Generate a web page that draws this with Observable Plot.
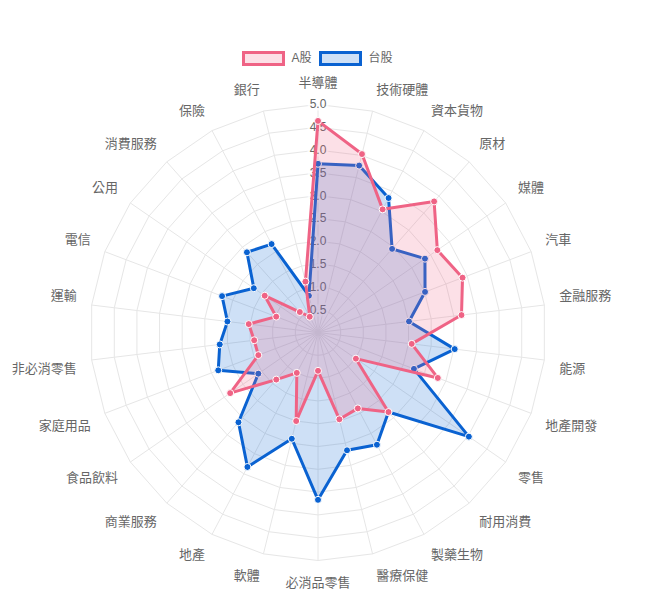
<!DOCTYPE html>
<html><head><meta charset="utf-8">
<script src="https://cdn.jsdelivr.net/npm/d3@7"></script>
<script src="https://cdn.jsdelivr.net/npm/@observablehq/plot@0.6"></script>
<style>
body{margin:0;background:#fff;font-family:"Liberation Sans","Noto Sans CJK TC",sans-serif;}
#legend{position:relative;height:70px;width:656px;}
.item{position:absolute;top:51px;display:flex;align-items:center;font-size:12px;color:#666;line-height:15px;}
.box{box-sizing:border-box;width:43px;height:15px;border:3px solid;margin-right:7px;}
#chart svg{display:block;}
</style></head>
<body>
<div id="legend"></div>
<div id="chart"></div>
<script>
const categories = ["半導體","技術硬體","資本貨物","原材","媒體","汽車","金融服務","能源","地產開發","零售","耐用消費","製藥生物","醫療保健","必消品零售","軟體","地產","商業服務","食品飲料","家庭用品","非必消零售","運輸","電信","公用","消費服務","保險","銀行"];
const seriesA = [4.64,4.03,3.05,3.84,3.18,3.39,3.17,2.07,2.81,1.01,2.33,1.88,1.96,0.84,2.0,1.0,1.38,2.34,1.4,1.41,1.53,0.98,1.42,0.6,0.39,1.15];
const seriesTW = [3.7,3.77,3.33,2.45,2.85,2.51,2.01,3.02,2.25,4.02,2.33,2.78,2.66,3.67,2.4,3.33,2.63,1.59,2.34,2.17,2.0,2.25,1.71,2.35,2.19,0.83];
const seriesNames = ["A股","台股"];
const tickValues = [0.5,1.0,1.5,2.0,2.5,3.0,3.5,4.0,4.5,5.0];
const colors = ["#ef6385","#0a62d1"];

// legend
const legend = document.getElementById("legend");
const legendLeft = [241.5, 318.5];
seriesNames.forEach((s, i) => {
  const it = document.createElement("div");
  it.className = "item";
  it.style.left = legendLeft[i] + "px";
  const b = document.createElement("div");
  b.className = "box";
  b.style.borderColor = colors[i];
  b.style.background = d3.color(colors[i]).copy({opacity: 0.2}).formatRgb();
  it.appendChild(b);
  const t = document.createElement("span");
  t.textContent = s;
  it.appendChild(t);
  legend.appendChild(it);
});

const W = 656, H = 539, CX = 317.5, CY = 262, K = 45.6, N = categories.length;
const maxV = tickValues[tickValues.length - 1];
const ang = i => i * 2 * Math.PI / N;
const px = (v, i) => v * Math.sin(ang(i));
const py = (v, i) => v * Math.cos(ang(i));

const seriesRows = [seriesA, seriesTW].map((vals, si) =>
  categories.map((c, i) => ({series: seriesNames[si], cat: c, i, v: vals[i], x: px(vals[i], i), y: py(vals[i], i)})));
const grid = tickValues.flatMap(l => categories.map((c, i) => ({level: l, x: px(l, i), y: py(l, i)})));
const spokes = categories.map((c, i) => ({x: px(maxV, i), y: py(maxV, i)}));
const LR = 243 / K;
const labels = categories.map((c, i) => ({c, a: i * 360 / N, x: px(LR, i), y: py(LR, i)}));

const font = "'Liberation Sans','Noto Sans CJK TC',sans-serif";
function labelMark(filter, anchor, dy) {
  return Plot.text(labels.filter(filter), {x: "x", y: "y", text: "c", textAnchor: anchor, dy, fill: "#666", fontSize: 13});
}

const marks = [
  Plot.line(grid, {x: "x", y: "y", z: "level", curve: "linear-closed", stroke: "#e6e6e6", strokeWidth: 1}),
  Plot.link(spokes, {x1: () => 0, y1: () => 0, x2: "x", y2: "y", stroke: "#e6e6e6", strokeWidth: 1}),
  Plot.text(tickValues, {x: () => 0, y: d => d, text: d => d.toFixed(1), fill: "#666", fontSize: 12, stroke: "white", strokeOpacity: 0.75, strokeWidth: 5}),
];
// dataset 1 (台股) drawn first, dataset 0 (A股) on top
[1, 0].forEach(si => {
  marks.push(Plot.line(seriesRows[si], {x: "x", y: "y", curve: "linear-closed", stroke: colors[si], strokeWidth: 3, fill: colors[si], fillOpacity: 0.2, strokeLinejoin: "miter"}));
  marks.push(Plot.dot(seriesRows[si], {x: "x", y: "y", r: 3.5, fill: colors[si], stroke: "white", strokeWidth: 1}));
});
marks.push(
  labelMark(d => d.a === 0, "middle", -7),
  labelMark(d => d.a === 180, "middle", 7),
  labelMark(d => d.a > 0 && d.a < 90, "start", -7),
  labelMark(d => d.a > 90 && d.a < 180, "start", 7),
  labelMark(d => d.a > 180 && d.a < 270, "end", 7),
  labelMark(d => d.a > 270, "end", -7)
);

const chart = Plot.plot({
  width: W, height: H, margin: 0,
  x: {type: "linear", domain: [-CX / K, (W - CX) / K], range: [0, W], axis: null},
  y: {type: "linear", domain: [CY / K, -(H - CY) / K], range: [0, H], axis: null},
  style: {fontFamily: font, background: "white"},
  marks
});
document.getElementById("chart").appendChild(chart);
</script>
</body></html>
